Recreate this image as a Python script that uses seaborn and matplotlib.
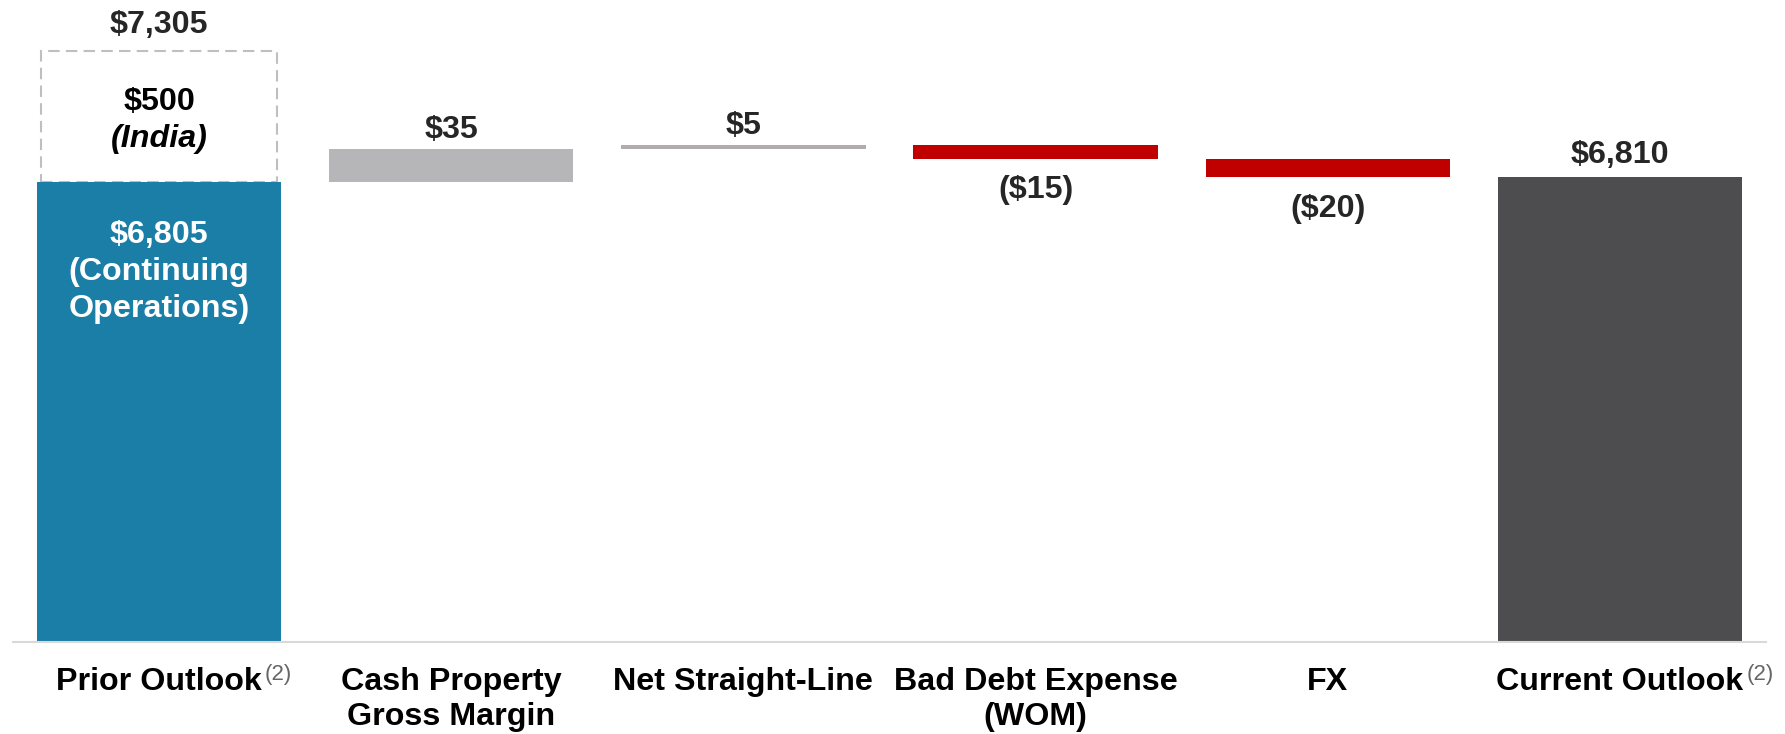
import numpy as np
import seaborn as sns
import matplotlib.pyplot as plt

# Data (USD millions)
categories = ["Prior Outlook", "Cash Property\nGross Margin", "Net Straight-Line",
              "Bad Debt Expense\n(WOM)", "FX", "Current Outlook"]
prior_continuing = 6805
india = 500
prior_total = 7305
deltas = [35, 5, -15, -20]
current = 6810

delta_labels = ["$35", "$5", "($15)", "($20)"]

# Colours
BLUE = "#1b7ea6"
UP_GREY = ["#b6b6b8", "#b0acac"]
RED = "#c00000"
DARK = "#4d4d4f"
TEXT = "#262626"

# Waterfall bottoms / heights from the running total
heights = [prior_continuing] + deltas + [current]
bottoms = [0]
running = prior_continuing
for d in deltas:
    bottoms.append(running)
    running += d
bottoms.append(0)
bar_colors = [BLUE] + UP_GREY + [RED, RED] + [DARK]

# The slide uses a broken (non-proportional) value axis: compress the base,
# stretch the small changes. Expressed as a piecewise linear scale (pixels).
knot_vals = [-2000, 0, 6805, 6845, 7305, 9305]
knot_pix = [-135.3, 0, 460, 497, 591, 981]


def forward(v):
    return np.interp(v, knot_vals, knot_pix)


def inverse(p):
    return np.interp(p, knot_pix, knot_vals)


sns.set_theme(style="white")
plt.rcParams["font.family"] = ["Liberation Sans", "DejaVu Sans"]

FS = 23.2

fig, ax = plt.subplots(figsize=(17.85, 7.34), dpi=100)
fig.subplots_adjust(left=13 / 1785, right=1766 / 1785, bottom=92.3 / 734, top=1.0)

# Dashed box for the India portion
ax.bar(0, india, bottom=prior_continuing, width=0.81, fill=False,
       edgecolor="#bfbfbf", linestyle=(0, (5.5, 3)), linewidth=1.5, zorder=1)

sns.barplot(x=categories, y=heights, bottom=bottoms, width=0.836, color=BLUE,
            errorbar=None, ax=ax, zorder=2)
for patch, c in zip(ax.containers[-1], bar_colors):
    patch.set_facecolor(c)
    patch.set_edgecolor("none")

ax.set_yscale("function", functions=(forward, inverse))
ax.set_ylim(0, inverse(641.7))
ax.set_yticks([])
ax.set_xlabel("")
ax.set_ylabel("")

for side in ["left", "top", "right"]:
    ax.spines[side].set_visible(False)
ax.spines["bottom"].set_color("#d9d9d9")
ax.spines["bottom"].set_linewidth(1.5)

ax.set_xticks(range(len(categories)))
ax.set_xticklabels(categories, fontsize=FS, fontweight="bold", color="black",
                   linespacing=1.22)
ax.tick_params(axis="x", length=0, pad=18)

ticklabels = ax.get_xticklabels()
for i in (0, len(categories) - 1):
    ax.annotate("(2)", xy=(1, 1), xycoords=ticklabels[i], xytext=(2, 2),
                textcoords="offset points", ha="left", va="top",
                fontsize=16, color="#666666")

big = dict(fontsize=FS, fontweight="bold", ha="center", va="baseline",
           textcoords="offset points")

# Prior outlook labels
ax.annotate(f"${prior_total:,}", xy=(0, prior_total), xytext=(0, 13), color=TEXT, **big)
ax.annotate(f"${india:,}", xy=(0, prior_total), xytext=(0, -43), color="black", **big)
ax.annotate("(India)", xy=(0, prior_total), xytext=(0, -69), color="black",
            fontstyle="italic", **big)
for k, line in enumerate([f"${prior_continuing:,}", "(Continuing", "Operations)"]):
    ax.annotate(line, xy=(0, prior_continuing), xytext=(0, -44 - 26.6 * k),
                color="white", **big)

# Change labels
for i, (d, lab) in enumerate(zip(deltas, delta_labels), start=1):
    if d > 0:
        ax.annotate(lab, xy=(i, bottoms[i] + d), xytext=(0, 8), color=TEXT, **big)
    else:
        ax.annotate(lab, xy=(i, bottoms[i] + d), xytext=(0, -28.5), color=TEXT, **big)

ax.annotate(f"${current:,}", xy=(len(categories) - 1, current), xytext=(0, 10),
            color=TEXT, **big)

fig.savefig("out.png", dpi=100)
